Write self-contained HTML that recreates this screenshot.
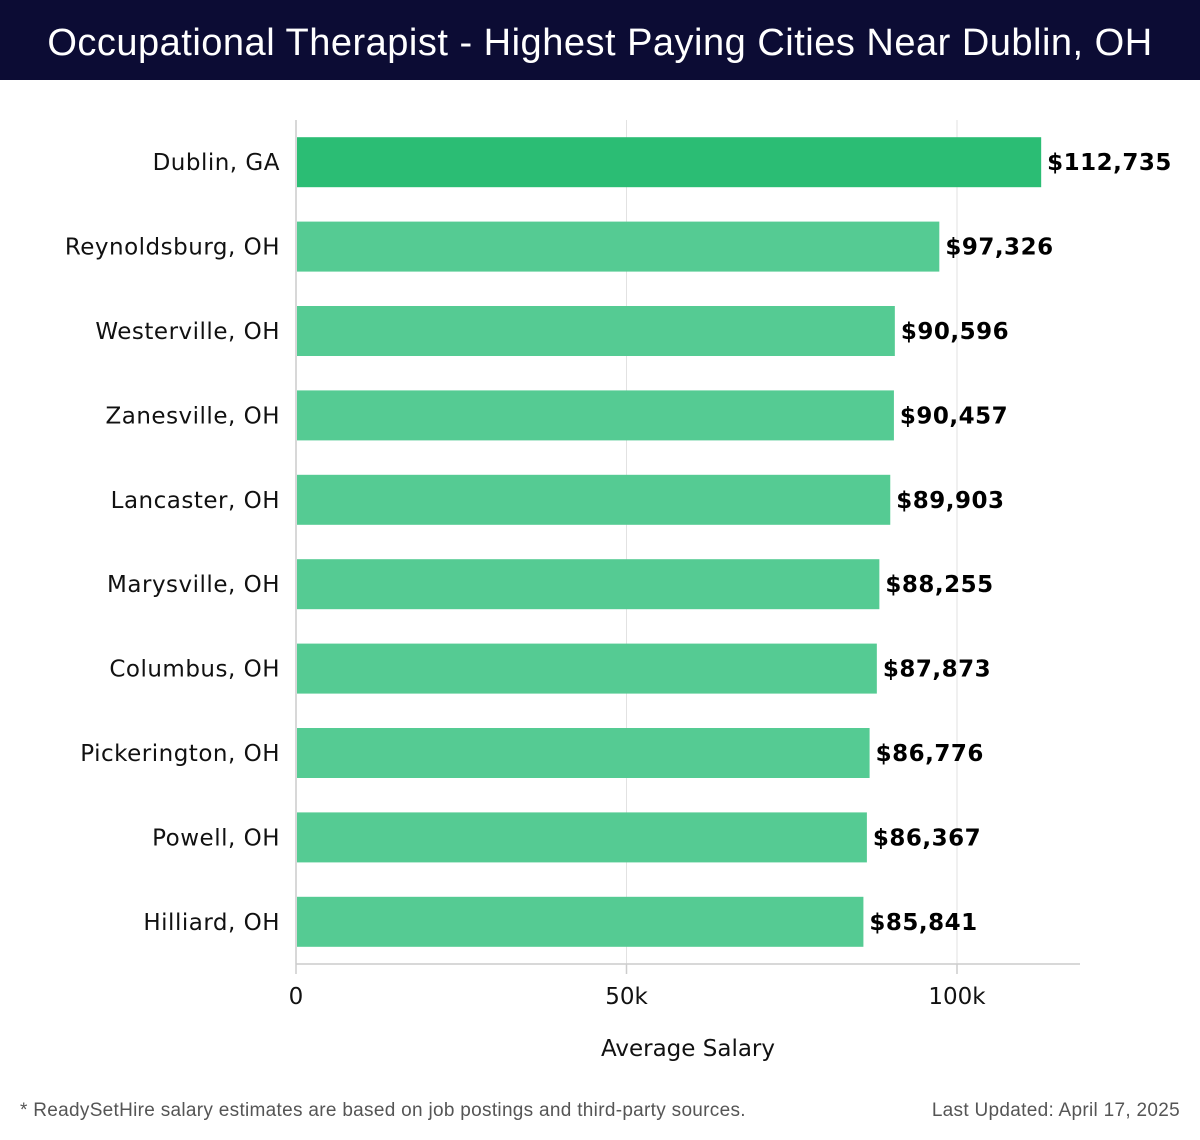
<!DOCTYPE html>
<html><head><meta charset="utf-8"><style>
html,body{margin:0;padding:0;background:#fff;width:1200px;height:1140px;overflow:hidden;font-family:"Liberation Sans",sans-serif}
#hdr{position:absolute;left:0;top:0;width:1200px;height:80px;background:#0c0c34;color:#fff;font-size:38px;text-align:center;line-height:86px;white-space:nowrap;letter-spacing:0.5px}
svg{position:absolute;left:0;top:0}
.ft{position:absolute;top:1100px;font-size:19px;color:#555;letter-spacing:0.3px}
</style></head><body>
<div id="hdr">Occupational Therapist - Highest Paying Cities Near Dublin, OH</div>
<svg id="chart" width="1200" height="1140"></svg>
<div class="ft" style="left:20px">* ReadySetHire salary estimates are based on job postings and third-party sources.</div>
<div class="ft" style="right:20px">Last Updated: April 17, 2025</div>
<script>
const categories=["Dublin, GA","Reynoldsburg, OH","Westerville, OH","Zanesville, OH","Lancaster, OH","Marysville, OH","Columbus, OH","Pickerington, OH","Powell, OH","Hilliard, OH"];
const salaries=[112735,97326,90596,90457,89903,88255,87873,86776,86367,85841];
const tickValues=[0,50000,100000];
const tickLabels=["0","50k","100k"];
const NS="http://www.w3.org/2000/svg";
const svg=document.getElementById('chart');
const x0=296,pxPer=330.5/50000,top0=120,bottom=964;
const band=(bottom-top0)/categories.length;
const FONT='DejaVu Sans, Liberation Sans, sans-serif';
function xs(v){return x0+v*pxPer;}
function yc(i){return top0+band*i+band/2;}
function mk(t,a){const e=document.createElementNS(NS,t);for(const k in a)e.setAttribute(k,a[k]);svg.appendChild(e);return e;}
tickValues.forEach((v,i)=>{
 const g=mk('line',{x1:xs(v),x2:xs(v),y1:top0,y2:bottom,stroke:'#e2e2e2','stroke-width':1});
 
 
 const tk=mk('line',{x1:xs(v),x2:xs(v),y1:bottom,y2:974,stroke:'#ccc','stroke-width':1.5});
 
 
 const t=mk('text',{x:xs(v),y:1004,'text-anchor':'middle','font-size':23,fill:'#111','font-family':FONT});
 t.textContent=tickLabels[i];
 
 
});
const ax=mk('line',{x1:x0,x2:1080,y1:bottom,y2:bottom,stroke:'#ccc','stroke-width':1.5});


const ay=mk('line',{x1:x0,x2:x0,y1:top0,y2:bottom,stroke:'#ccc','stroke-width':1.5});


categories.forEach((c,i)=>{
 const y=yc(i);
 const r=mk('rect',{x:x0+1,y:y-25,width:xs(salaries[i])-x0-1,height:50,fill:i===0?'#2bbd74':'#55cb93'});
 
 
 const l=mk('text',{x:280,y:y+8,'text-anchor':'end','font-size':23,fill:'#111','font-family':FONT,'letter-spacing':0.5});
 l.textContent=c;
 
 
 const v=mk('text',{x:xs(salaries[i])+6,y:y+8,'font-size':23,'font-weight':'bold',fill:'#000','font-family':FONT,'letter-spacing':0.5});
 v.textContent='$'+salaries[i].toLocaleString('en-US');
 
 
});
const xt=mk('text',{x:688,y:1056,'text-anchor':'middle','font-size':23,fill:'#111','font-family':FONT});
xt.textContent='Average Salary';


</script>
</body></html>
